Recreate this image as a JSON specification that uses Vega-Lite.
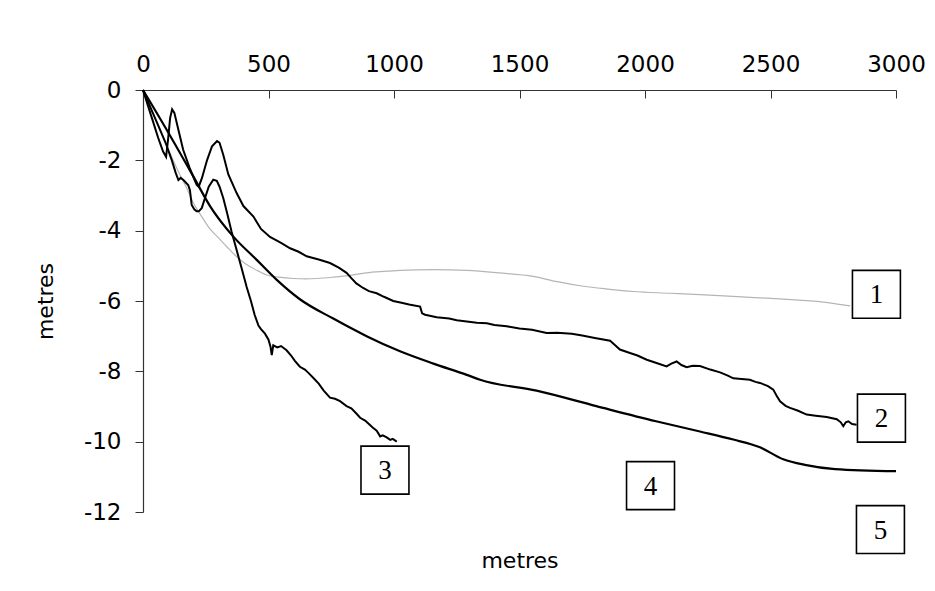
{
  "$schema": "https://vega.github.io/schema/vega-lite/v6.json",
  "width": 753,
  "height": 422,
  "autosize": {"type": "none"},
  "padding": {"left": 143, "top": 90, "right": 39, "bottom": 79},
  "background": "white",
  "config": {
    "view": {"stroke": null},
    "axis": {"labelFont": "DejaVu Sans", "titleFont": "DejaVu Sans", "labelColor": "black", "titleColor": "black", "domainColor": "#333", "tickColor": "#333", "grid": false}
  },
  "datasets": {
    "curves": [
      {"s": "1", "x": 0, "y": 0}, {"s": "1", "x": 30, "y": -0.5}, {"s": "1", "x": 60, "y": -1.0}, {"s": "1", "x": 90, "y": -1.5}, {"s": "1", "x": 120, "y": -2.0}, {"s": "1", "x": 150, "y": -2.45}, {"s": "1", "x": 175, "y": -2.8}, {"s": "1", "x": 200, "y": -3.2}, {"s": "1", "x": 234, "y": -3.6}, {"s": "1", "x": 267, "y": -3.95}, {"s": "1", "x": 300, "y": -4.2}, {"s": "1", "x": 333, "y": -4.45}, {"s": "1", "x": 367, "y": -4.7}, {"s": "1", "x": 400, "y": -4.9}, {"s": "1", "x": 426, "y": -5.02}, {"s": "1", "x": 460, "y": -5.15}, {"s": "1", "x": 493, "y": -5.26}, {"s": "1", "x": 540, "y": -5.32}, {"s": "1", "x": 599, "y": -5.36}, {"s": "1", "x": 650, "y": -5.37}, {"s": "1", "x": 692, "y": -5.36}, {"s": "1", "x": 760, "y": -5.32}, {"s": "1", "x": 825, "y": -5.27}, {"s": "1", "x": 890, "y": -5.2}, {"s": "1", "x": 957, "y": -5.16}, {"s": "1", "x": 1024, "y": -5.13}, {"s": "1", "x": 1157, "y": -5.11}, {"s": "1", "x": 1290, "y": -5.13}, {"s": "1", "x": 1420, "y": -5.2}, {"s": "1", "x": 1555, "y": -5.3}, {"s": "1", "x": 1650, "y": -5.45}, {"s": "1", "x": 1754, "y": -5.58}, {"s": "1", "x": 1850, "y": -5.66}, {"s": "1", "x": 1953, "y": -5.73}, {"s": "1", "x": 2100, "y": -5.78}, {"s": "1", "x": 2219, "y": -5.82}, {"s": "1", "x": 2350, "y": -5.87}, {"s": "1", "x": 2485, "y": -5.92}, {"s": "1", "x": 2600, "y": -5.97}, {"s": "1", "x": 2684, "y": -6.01}, {"s": "1", "x": 2760, "y": -6.08}, {"s": "1", "x": 2817, "y": -6.14},

      {"s": "4", "x": 0, "y": 0}, {"s": "4", "x": 100, "y": -1.2}, {"s": "4", "x": 200, "y": -2.45}, {"s": "4", "x": 267, "y": -3.3}, {"s": "4", "x": 360, "y": -4.17}, {"s": "4", "x": 453, "y": -4.83}, {"s": "4", "x": 533, "y": -5.4}, {"s": "4", "x": 625, "y": -5.95}, {"s": "4", "x": 758, "y": -6.5}, {"s": "4", "x": 891, "y": -7.0}, {"s": "4", "x": 1024, "y": -7.43}, {"s": "4", "x": 1157, "y": -7.78}, {"s": "4", "x": 1290, "y": -8.1}, {"s": "4", "x": 1343, "y": -8.24}, {"s": "4", "x": 1568, "y": -8.55}, {"s": "4", "x": 1806, "y": -8.99}, {"s": "4", "x": 2044, "y": -9.42}, {"s": "4", "x": 2219, "y": -9.71}, {"s": "4", "x": 2352, "y": -9.94}, {"s": "4", "x": 2458, "y": -10.16}, {"s": "4", "x": 2551, "y": -10.5}, {"s": "4", "x": 2637, "y": -10.66}, {"s": "4", "x": 2757, "y": -10.78}, {"s": "4", "x": 3000, "y": -10.84},

      {"s": "2", "x": 0, "y": 0}, {"s": "2", "x": 20, "y": -0.45}, {"s": "2", "x": 40, "y": -0.9}, {"s": "2", "x": 60, "y": -1.35}, {"s": "2", "x": 80, "y": -1.75}, {"s": "2", "x": 92, "y": -1.9}, {"s": "2", "x": 100, "y": -1.4}, {"s": "2", "x": 108, "y": -0.8}, {"s": "2", "x": 116, "y": -0.55}, {"s": "2", "x": 125, "y": -0.65}, {"s": "2", "x": 140, "y": -1.1}, {"s": "2", "x": 160, "y": -1.7}, {"s": "2", "x": 185, "y": -2.2}, {"s": "2", "x": 205, "y": -2.55}, {"s": "2", "x": 214, "y": -2.7}, {"s": "2", "x": 222, "y": -2.75}, {"s": "2", "x": 235, "y": -2.5}, {"s": "2", "x": 255, "y": -2.0}, {"s": "2", "x": 275, "y": -1.6}, {"s": "2", "x": 295, "y": -1.45}, {"s": "2", "x": 305, "y": -1.5}, {"s": "2", "x": 320, "y": -1.85}, {"s": "2", "x": 340, "y": -2.4}, {"s": "2", "x": 373, "y": -2.93}, {"s": "2", "x": 400, "y": -3.3}, {"s": "2", "x": 440, "y": -3.6}, {"s": "2", "x": 470, "y": -3.95}, {"s": "2", "x": 506, "y": -4.18}, {"s": "2", "x": 550, "y": -4.35}, {"s": "2", "x": 586, "y": -4.5}, {"s": "2", "x": 620, "y": -4.6}, {"s": "2", "x": 652, "y": -4.73}, {"s": "2", "x": 700, "y": -4.82}, {"s": "2", "x": 745, "y": -4.92}, {"s": "2", "x": 780, "y": -5.05}, {"s": "2", "x": 811, "y": -5.2}, {"s": "2", "x": 830, "y": -5.35}, {"s": "2", "x": 850, "y": -5.5}, {"s": "2", "x": 877, "y": -5.63}, {"s": "2", "x": 900, "y": -5.72}, {"s": "2", "x": 931, "y": -5.78}, {"s": "2", "x": 960, "y": -5.88}, {"s": "2", "x": 997, "y": -6.0}, {"s": "2", "x": 1030, "y": -6.05}, {"s": "2", "x": 1060, "y": -6.1}, {"s": "2", "x": 1104, "y": -6.16}, {"s": "2", "x": 1112, "y": -6.35}, {"s": "2", "x": 1124, "y": -6.39}, {"s": "2", "x": 1170, "y": -6.46}, {"s": "2", "x": 1220, "y": -6.5}, {"s": "2", "x": 1250, "y": -6.55}, {"s": "2", "x": 1290, "y": -6.58}, {"s": "2", "x": 1330, "y": -6.62}, {"s": "2", "x": 1370, "y": -6.63}, {"s": "2", "x": 1400, "y": -6.68}, {"s": "2", "x": 1449, "y": -6.72}, {"s": "2", "x": 1500, "y": -6.78}, {"s": "2", "x": 1550, "y": -6.82}, {"s": "2", "x": 1608, "y": -6.91}, {"s": "2", "x": 1650, "y": -6.9}, {"s": "2", "x": 1708, "y": -6.93}, {"s": "2", "x": 1750, "y": -6.98}, {"s": "2", "x": 1800, "y": -7.05}, {"s": "2", "x": 1861, "y": -7.13}, {"s": "2", "x": 1880, "y": -7.25}, {"s": "2", "x": 1900, "y": -7.38}, {"s": "2", "x": 1940, "y": -7.48}, {"s": "2", "x": 1970, "y": -7.55}, {"s": "2", "x": 2007, "y": -7.67}, {"s": "2", "x": 2040, "y": -7.75}, {"s": "2", "x": 2086, "y": -7.86}, {"s": "2", "x": 2105, "y": -7.78}, {"s": "2", "x": 2126, "y": -7.72}, {"s": "2", "x": 2145, "y": -7.82}, {"s": "2", "x": 2166, "y": -7.88}, {"s": "2", "x": 2190, "y": -7.84}, {"s": "2", "x": 2219, "y": -7.85}, {"s": "2", "x": 2260, "y": -7.95}, {"s": "2", "x": 2299, "y": -8.03}, {"s": "2", "x": 2330, "y": -8.12}, {"s": "2", "x": 2352, "y": -8.2}, {"s": "2", "x": 2385, "y": -8.22}, {"s": "2", "x": 2418, "y": -8.24}, {"s": "2", "x": 2440, "y": -8.3}, {"s": "2", "x": 2458, "y": -8.33}, {"s": "2", "x": 2490, "y": -8.42}, {"s": "2", "x": 2511, "y": -8.52}, {"s": "2", "x": 2525, "y": -8.7}, {"s": "2", "x": 2538, "y": -8.85}, {"s": "2", "x": 2560, "y": -8.98}, {"s": "2", "x": 2578, "y": -9.04}, {"s": "2", "x": 2610, "y": -9.12}, {"s": "2", "x": 2644, "y": -9.23}, {"s": "2", "x": 2680, "y": -9.26}, {"s": "2", "x": 2724, "y": -9.3}, {"s": "2", "x": 2764, "y": -9.36}, {"s": "2", "x": 2780, "y": -9.45}, {"s": "2", "x": 2790, "y": -9.56}, {"s": "2", "x": 2800, "y": -9.45}, {"s": "2", "x": 2810, "y": -9.42}, {"s": "2", "x": 2825, "y": -9.5}, {"s": "2", "x": 2843, "y": -9.52},

      {"s": "3", "x": 0, "y": 0}, {"s": "3", "x": 30, "y": -0.5}, {"s": "3", "x": 60, "y": -1.0}, {"s": "3", "x": 90, "y": -1.5}, {"s": "3", "x": 115, "y": -2.0}, {"s": "3", "x": 130, "y": -2.35}, {"s": "3", "x": 141, "y": -2.56}, {"s": "3", "x": 150, "y": -2.5}, {"s": "3", "x": 161, "y": -2.56}, {"s": "3", "x": 180, "y": -2.7}, {"s": "3", "x": 187, "y": -2.85}, {"s": "3", "x": 194, "y": -3.27}, {"s": "3", "x": 205, "y": -3.4}, {"s": "3", "x": 214, "y": -3.45}, {"s": "3", "x": 222, "y": -3.45}, {"s": "3", "x": 234, "y": -3.36}, {"s": "3", "x": 247, "y": -3.07}, {"s": "3", "x": 262, "y": -2.75}, {"s": "3", "x": 280, "y": -2.55}, {"s": "3", "x": 294, "y": -2.58}, {"s": "3", "x": 305, "y": -2.75}, {"s": "3", "x": 320, "y": -3.08}, {"s": "3", "x": 335, "y": -3.5}, {"s": "3", "x": 353, "y": -4.03}, {"s": "3", "x": 373, "y": -4.55}, {"s": "3", "x": 393, "y": -5.07}, {"s": "3", "x": 413, "y": -5.6}, {"s": "3", "x": 430, "y": -6.0}, {"s": "3", "x": 445, "y": -6.4}, {"s": "3", "x": 460, "y": -6.7}, {"s": "3", "x": 470, "y": -6.8}, {"s": "3", "x": 486, "y": -6.93}, {"s": "3", "x": 500, "y": -7.1}, {"s": "3", "x": 508, "y": -7.3}, {"s": "3", "x": 513, "y": -7.54}, {"s": "3", "x": 519, "y": -7.26}, {"s": "3", "x": 535, "y": -7.32}, {"s": "3", "x": 550, "y": -7.28}, {"s": "3", "x": 572, "y": -7.4}, {"s": "3", "x": 590, "y": -7.55}, {"s": "3", "x": 605, "y": -7.7}, {"s": "3", "x": 625, "y": -7.87}, {"s": "3", "x": 645, "y": -7.95}, {"s": "3", "x": 660, "y": -8.05}, {"s": "3", "x": 679, "y": -8.19}, {"s": "3", "x": 700, "y": -8.35}, {"s": "3", "x": 720, "y": -8.55}, {"s": "3", "x": 745, "y": -8.75}, {"s": "3", "x": 765, "y": -8.78}, {"s": "3", "x": 785, "y": -8.85}, {"s": "3", "x": 811, "y": -8.99}, {"s": "3", "x": 830, "y": -9.05}, {"s": "3", "x": 850, "y": -9.2}, {"s": "3", "x": 865, "y": -9.32}, {"s": "3", "x": 885, "y": -9.4}, {"s": "3", "x": 900, "y": -9.5}, {"s": "3", "x": 915, "y": -9.6}, {"s": "3", "x": 931, "y": -9.69}, {"s": "3", "x": 945, "y": -9.85}, {"s": "3", "x": 955, "y": -9.82}, {"s": "3", "x": 971, "y": -9.88}, {"s": "3", "x": 985, "y": -9.95}, {"s": "3", "x": 995, "y": -9.92}, {"s": "3", "x": 1011, "y": -10.0}
    ],
    "boxes": [
      {"label": "1", "x": 2922, "y": -5.81},
      {"label": "2", "x": 2942, "y": -9.33},
      {"label": "3", "x": 964, "y": -10.81},
      {"label": "4", "x": 2022, "y": -11.25},
      {"label": "5", "x": 2938, "y": -12.5}
    ]
  },
  "layer": [
    {
      "data": {"name": "curves"},
      "transform": [{"filter": "datum.s == '1' || datum.s == '4'"}],
      "mark": {"type": "line", "interpolate": "monotone"},
      "encoding": {
        "x": {"field": "x", "type": "quantitative", "scale": {"domain": [0, 3000], "nice": false},
          "axis": {"orient": "top", "values": [0, 500, 1000, 1500, 2000, 2500, 3000], "labelExpr": "'' + datum.value", "title": null, "labelFontSize": 23, "tickSize": -8, "labelPadding": 22, "domainWidth": 1.2, "labelFlush": false}},
        "y": {"field": "y", "type": "quantitative", "scale": {"domain": [-12, 0], "nice": false},
          "axis": {"values": [0, -2, -4, -6, -8, -10, -12], "labelExpr": "'' + datum.value", "title": "metres", "titleFontSize": 22, "titleFontWeight": "normal", "titlePadding": 26, "labelFontSize": 23, "tickSize": 8, "labelPadding": 14, "domainWidth": 1.2, "labelFlush": false}},
        "detail": {"field": "s"},
        "color": {"field": "s", "type": "nominal", "scale": {"domain": ["1", "4"], "range": ["#b5b5b5", "#000000"]}, "legend": null},
        "strokeWidth": {"field": "s", "type": "nominal", "scale": {"domain": ["1", "4"], "range": [1.2, 2.2]}, "legend": null}
      }
    },
    {
      "data": {"name": "curves"},
      "transform": [{"filter": "datum.s == '2' || datum.s == '3'"}],
      "mark": {"type": "line", "color": "black", "strokeWidth": 2},
      "encoding": {
        "x": {"field": "x", "type": "quantitative", "axis": null},
        "y": {"field": "y", "type": "quantitative", "axis": null},
        "detail": {"field": "s"}
      }
    },
    {
      "data": {"name": "boxes"},
      "mark": {"type": "point", "shape": "square", "filled": true, "fill": "white", "stroke": "black", "strokeWidth": 1.6, "size": 2300, "opacity": 1},
      "encoding": {
        "x": {"field": "x", "type": "quantitative",
          "axis": {"orient": "bottom", "title": "metres", "titleFontSize": 22, "titleFontWeight": "normal", "titlePadding": 38, "labels": false, "ticks": false, "domain": false}},
        "y": {"field": "y", "type": "quantitative", "axis": null}
      }
    },
    {
      "data": {"name": "boxes"},
      "mark": {"type": "text", "font": "Liberation Serif", "fontSize": 27, "color": "black", "baseline": "middle", "align": "center", "dy": 1},
      "encoding": {
        "x": {"field": "x", "type": "quantitative", "axis": null},
        "y": {"field": "y", "type": "quantitative", "axis": null},
        "text": {"field": "label"}
      }
    }
  ],
  "resolve": {"axis": {"x": "independent", "y": "independent"}}
}
